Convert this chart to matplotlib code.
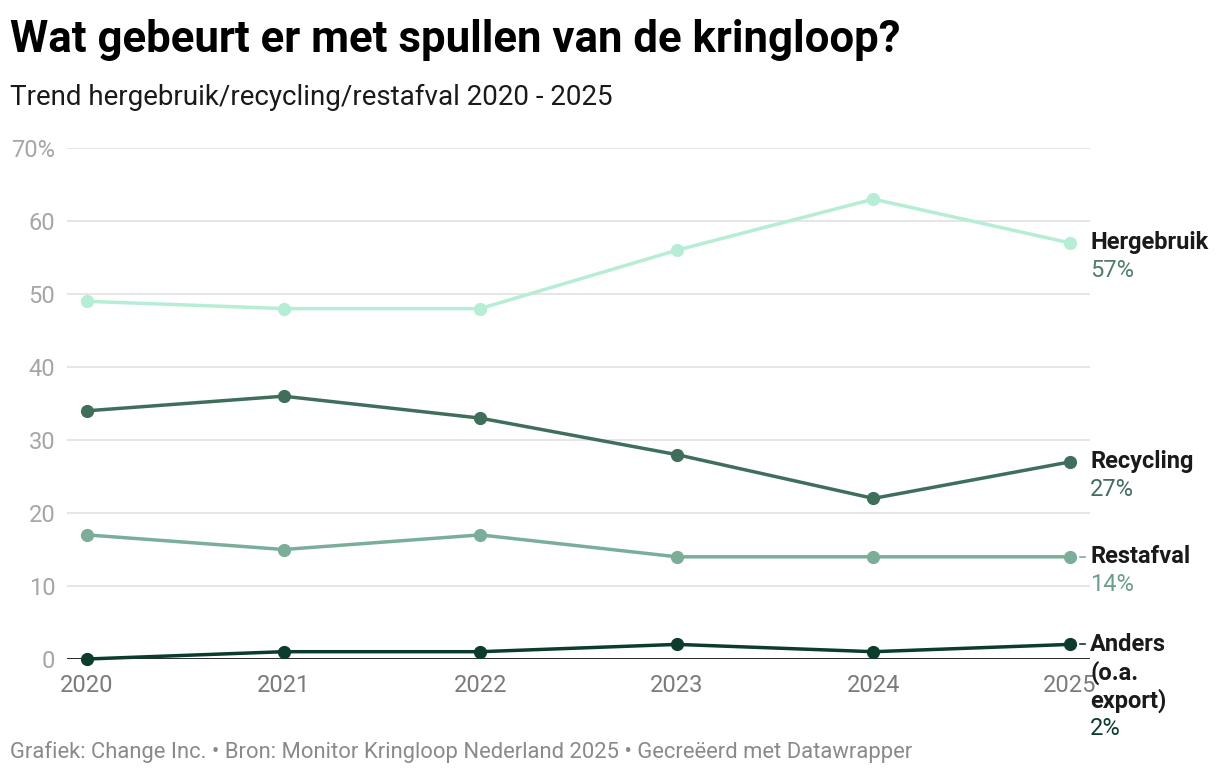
"""Trend hergebruik / recycling / restafval bij kringloopwinkels, 2020 - 2025."""
import matplotlib.pyplot as plt

plt.rcParams["font.family"] = ["Roboto", "DejaVu Sans"]

years = [2020, 2021, 2022, 2023, 2024, 2025]
hergebruik = [49, 48, 48, 56, 63, 57]
recycling = [34, 36, 33, 28, 22, 27]
restafval = [17, 15, 17, 14, 14, 14]
anders = [0, 1, 1, 2, 1, 2]

series_names = ["Hergebruik", "Recycling", "Restafval", "Anders\n(o.a.\nexport)"]
series_values = [hergebruik, recycling, restafval, anders]
line_colors = ["#b5eed4", "#3f6f5b", "#7aae98", "#0b3d2a"]
label_colors = ["#4e8068", "#3f6f5b", "#6a9f88", "#0b3d2a"]
has_connector = [False, False, True, True]

y_ticks = [0, 10, 20, 30, 40, 50, 60, 70]
y_ticklabels = ["0", "10", "20", "30", "40", "50", "60", "70%"]

W, H = 1220, 776
fig = plt.figure(figsize=(W / 100, H / 100), dpi=100)
ax = fig.add_axes([67 / W, (H - 659) / H, (1090 - 67) / W, (659 - 148) / H])

px_per_year = (1070 - 87) / 5
pad = 20 / px_per_year
ax.set_xlim(years[0] - pad, years[-1] + pad)
ax.set_ylim(0, 70)

for vals, col in zip(series_values, line_colors):
    ax.plot(years, vals, color=col, lw=2.5, marker="o", ms=8.5,
            solid_capstyle="round", zorder=3, clip_on=False)

ax.axhline(0, color="#1a1a1a", lw=1.3, zorder=2)
ax.set_yticks(y_ticks)
ax.set_yticklabels(y_ticklabels)
ax.set_xticks(years)
ax.grid(axis="y", color="#e2e2e2", lw=1.2)
ax.set_axisbelow(True)
ax.tick_params(axis="y", length=0, pad=8.5, labelsize=17, labelcolor="#a6a6a6")
ax.tick_params(axis="x", length=0, pad=11, labelsize=17, labelcolor="#7b7b7b")
for s in ax.spines.values():
    s.set_visible(False)

# labels at the right end of each line, one text per line, 28 px apart
step = 28
for name, vals, col, lcol, conn in zip(series_names, series_values,
                                       label_colors, line_colors, has_connector):
    y = vals[-1]
    if conn:
        # short dash between the last point and its label
        x0 = years[-1] + 10 / px_per_year
        x1 = years[-1] + 15 / px_per_year
        ax.plot([x0, x1], [y, y], color=lcol, lw=1.2, clip_on=False, zorder=2)
    lines = name.split("\n")
    for i, part in enumerate(lines):
        ax.annotate(part, xy=(1, y), xycoords=("axes fraction", "data"),
                    xytext=(0, -step * i), textcoords="offset pixels",
                    ha="left", va="center", fontsize=17, fontweight="bold",
                    color="#1a1a1a")
    ax.annotate(f"{y}%", xy=(1, y), xycoords=("axes fraction", "data"),
                xytext=(0, -step * len(lines)), textcoords="offset pixels",
                ha="left", va="center", fontsize=17, color=col)

fig.text(10 / W, 1 - 40 / H, "Wat gebeurt er met spullen van de kringloop?",
         fontsize=31.5, fontweight="bold", color="#000000", va="center")
fig.text(10 / W, 1 - 97 / H, "Trend hergebruik/recycling/restafval 2020 - 2025",
         fontsize=20, color="#1a1a1a", va="center")
fig.text(10 / W, 1 - 752 / H,
         "Grafiek: Change Inc. \u2022 Bron: Monitor Kringloop Nederland 2025 \u2022 Gecre\u00eberd met Datawrapper",
         fontsize=15.8, color="#8a8a8a", va="center")

fig.savefig("out.png", dpi=100)
